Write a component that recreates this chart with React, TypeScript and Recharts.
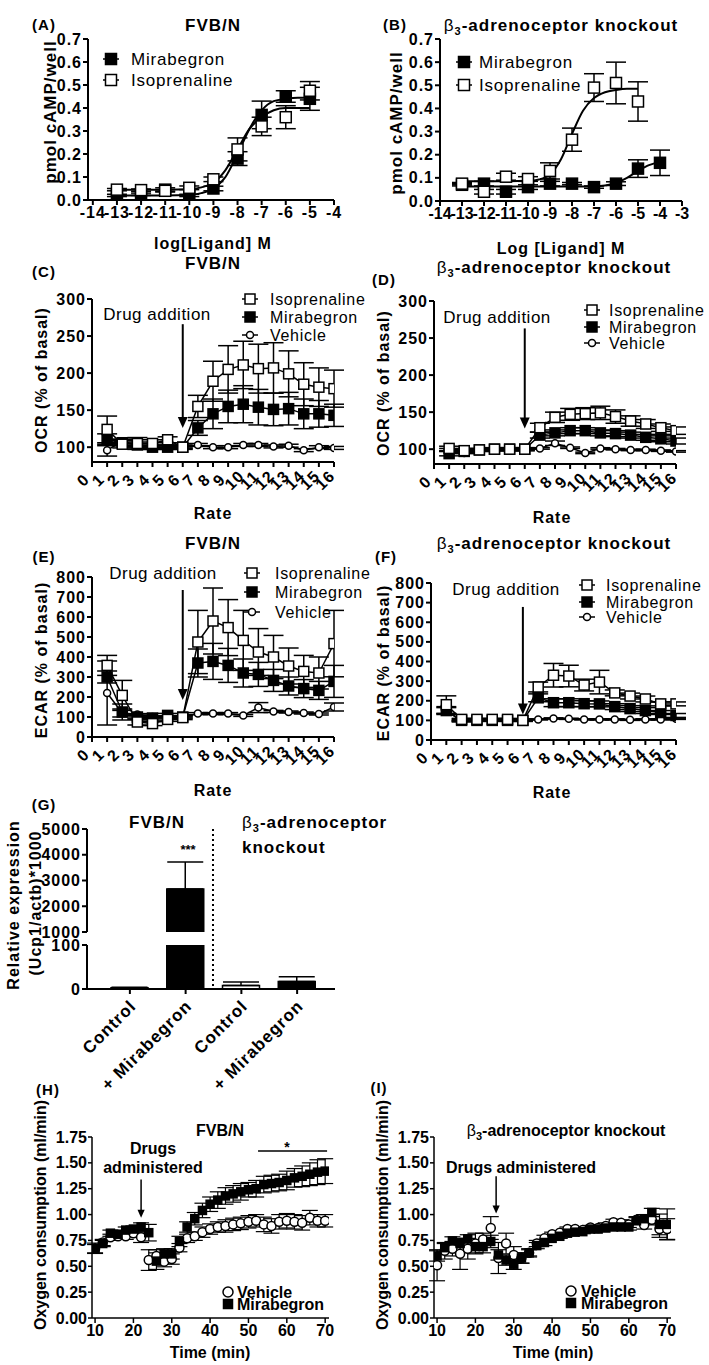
import React from "react"
import { Bar, BarChart, Cell, ComposedChart, ErrorBar, Line, ReferenceLine, XAxis, YAxis } from "recharts"

const FONT = "'Liberation Sans', Arial, Helvetica, sans-serif"

// ---- (A) cAMP, FVB/N ----
const A_DOSE = [-13, -12, -11, -10, -9, -8, -7, -6, -5]
const A_MIRA = [0.02, 0.025, 0.045, 0.02, 0.05, 0.18, 0.37, 0.45, 0.44]
const A_MIRA_ERR = [0.005, 0.005, 0.008, 0.005, 0.01, 0.03, 0.06, 0.025, 0.05]
const A_ISO = [0.045, 0.043, 0.04, 0.053, 0.09, 0.22, 0.32, 0.36, 0.475]
const A_ISO_ERR = [0.005, 0.005, 0.005, 0.008, 0.01, 0.05, 0.04, 0.05, 0.04]
const A_FIT_X = [-13, -12, -11, -10, -9.5, -9, -8.5, -8, -7.5, -7, -6.5, -6, -5.5, -5]
const A_MIRA_FIT = [0.02, 0.02, 0.02, 0.022, 0.03, 0.05, 0.1, 0.2, 0.31, 0.39, 0.43, 0.44, 0.445, 0.445]
const A_ISO_FIT = [0.045, 0.045, 0.045, 0.047, 0.055, 0.075, 0.13, 0.22, 0.31, 0.36, 0.39, 0.4, 0.4, 0.4]
const A_TICKS = [-14, -13, -12, -11, -10, -9, -8, -7, -6, -5, -4]

// ---- (B) cAMP, b3 knockout ----
const B_DOSE_MIRA = [-13, -12, -11, -10, -9, -8, -7, -6, -5, -4]
const B_MIRA = [0.07, 0.075, 0.04, 0.06, 0.075, 0.075, 0.06, 0.075, 0.14, 0.165]
const B_MIRA_ERR = [0.005, 0.01, 0.01, 0.01, 0.01, 0.005, 0.005, 0.008, 0.038, 0.055]
const B_DOSE_ISO = [-13, -12, -11, -10, -9, -8, -7, -6, -5]
const B_ISO = [0.075, 0.04, 0.105, 0.095, 0.13, 0.265, 0.49, 0.51, 0.43]
const B_ISO_ERR = [0.005, 0.01, 0.015, 0.01, 0.035, 0.05, 0.06, 0.09, 0.085]
const B_ISO_FIT_X = [-13, -12, -11, -10, -9.5, -9, -8.5, -8, -7.5, -7, -6.5, -6, -5.5, -5]
const B_ISO_FIT = [0.085, 0.085, 0.085, 0.087, 0.093, 0.115, 0.18, 0.29, 0.39, 0.445, 0.47, 0.48, 0.485, 0.485]
const B_MIRA_FIT_X = [-13, -12, -11, -10, -9, -8, -7, -6.5, -6, -5.5, -5, -4.5, -4]
const B_MIRA_FIT = [0.063, 0.063, 0.063, 0.063, 0.063, 0.063, 0.064, 0.067, 0.078, 0.1, 0.13, 0.155, 0.168]
const B_TICKS = [-14, -13, -12, -11, -10, -9, -8, -7, -6, -5, -4, -3]
const CAMP_TICKS = [0, 0.1, 0.2, 0.3, 0.4, 0.5, 0.6, 0.7]

// ---- (C)-(F) OCR / ECAR ----
const RATE = [1, 2, 3, 4, 5, 6, 7, 8, 9, 10, 11, 12, 13, 14, 15, 16]
const RATE_TICKS = [0, 1, 2, 3, 4, 5, 6, 7, 8, 9, 10, 11, 12, 13, 14, 15, 16]

const ISO_C = [124, 104, 105, 105, 110, 100, 155, 189, 205, 211, 206, 207, 199, 185, 181, 179]
const ISO_C_ERR = [18, 5, 8, 5, 4, 3, 15, 27, 32, 32, 33, 34, 31, 29, 26, 25]
const MIRA_C = [110, 106, 103, 100, 100, 100, 126, 145, 155, 158, 154, 151, 152, 145, 145, 143]
const MIRA_C_ERR = [8, 4, 4, 3, 3, 2, 10, 20, 22, 25, 24, 22, 22, 20, 18, 15]
const VEH_C = [96, 108, 103, 100, 100, 100, 103, 100, 100, 103, 103, 101, 102, 96, 100, 99]
const VEH_C_ERR = [8, 3, 2, 2, 2, 1, 2, 2, 2, 2, 2, 2, 2, 2, 2, 2]

const ISO_D = [101, 98, 99, 100, 100, 100, 129, 143, 147, 148, 149, 144, 138, 134, 129, 125]
const ISO_D_ERR = [3, 2, 2, 2, 2, 2, 6, 7, 8, 8, 9, 9, 7, 6, 5, 5]
const MIRA_D = [94, 97, 99, 100, 100, 100, 119, 122, 125, 125, 122, 121, 119, 116, 114, 111]
const MIRA_D_ERR = [3, 2, 2, 2, 2, 2, 4, 4, 4, 4, 4, 4, 4, 4, 4, 4]
const VEH_D = [99, 95, 99, 100, 100, 100, 101, 108, 102, 95, 101, 100, 99, 99, 98, 97]
const VEH_D_ERR = [2, 1, 1, 1, 1, 1, 1, 3, 1, 1, 1, 1, 1, 1, 1, 1]

const ISO_E = [358, 208, 75, 67, 88, 97, 475, 580, 547, 483, 425, 400, 355, 328, 320, 467]
const ISO_E_ERR = [50, 75, 15, 10, 10, 10, 158, 165, 140, 150, 117, 108, 90, 80, 80, 166]
const MIRA_E = [300, 125, 100, 95, 108, 100, 370, 378, 358, 320, 313, 283, 255, 242, 233, 278]
const MIRA_E_ERR = [30, 40, 10, 10, 10, 5, 70, 90, 85, 70, 60, 55, 45, 45, 45, 80]
const VEH_E = [220, 120, 112, 100, 100, 100, 117, 117, 117, 108, 147, 128, 125, 120, 115, 150]
const VEH_E_ERR = [160, 20, 5, 5, 5, 5, 5, 5, 5, 5, 25, 5, 5, 5, 5, 20]

const ISO_F = [180, 105, 105, 105, 105, 100, 270, 330, 326, 280, 295, 240, 224, 209, 184, 184]
const ISO_F_ERR = [45, 5, 5, 5, 5, 5, 25, 60, 55, 30, 60, 15, 15, 15, 10, 10]
const MIRA_F = [150, 100, 100, 100, 100, 100, 215, 190, 190, 185, 184, 170, 160, 150, 140, 125]
const MIRA_F_ERR = [20, 5, 5, 5, 5, 5, 20, 20, 20, 15, 15, 15, 15, 15, 10, 10]
const VEH_F = [150, 95, 100, 100, 100, 100, 105, 110, 108, 105, 105, 105, 103, 105, 105, 108]
const VEH_F_ERR = [15, 3, 3, 3, 3, 3, 3, 3, 3, 3, 3, 3, 3, 3, 3, 3]

const OCR_TICKS = [100, 150, 200, 250, 300]
const ECAR_TICKS = [0, 100, 200, 300, 400, 500, 600, 700, 800]

// ---- (G) Ucp1 expression ----
const G_CATS = ["Control", "+ Mirabegron", "Control", "+ Mirabegron"]
const G_VALS = [3, 2670, 8, 17]
const G_ERR = [1, 1050, 8, 11]
const G_FILL = ["#fff", "#000", "#fff", "#000"]

// ---- (H)/(I) oxygen consumption ----
const TIME = [10, 12, 14, 16, 18, 20, 22, 24, 26, 28, 30, 32, 34, 36, 38, 40, 42, 44, 46, 48, 50, 52, 54, 56, 58, 60, 62, 64, 66, 68, 70]
const MIRA_H = [0.674, 0.72, 0.82, 0.81, 0.85, 0.86, 0.88, 0.825, 0.55, 0.62, 0.62, 0.74, 0.88, 0.96, 1.04, 1.1, 1.14, 1.18, 1.2, 1.22, 1.24, 1.25, 1.29, 1.3, 1.31, 1.33, 1.355, 1.37, 1.39, 1.41, 1.42]
const MIRA_H_ERR = [0.05, 0.03, 0.03, 0.03, 0.03, 0.03, 0.04, 0.08, 0.08, 0.05, 0.05, 0.05, 0.05, 0.06, 0.07, 0.07, 0.08, 0.08, 0.08, 0.08, 0.07, 0.08, 0.08, 0.08, 0.08, 0.09, 0.09, 0.1, 0.11, 0.12, 0.12]
const VEH_H = [0.67, 0.73, 0.78, 0.79, 0.79, 0.82, 0.78, 0.56, 0.6, 0.545, 0.57, 0.68, 0.77, 0.79, 0.83, 0.86, 0.88, 0.89, 0.905, 0.915, 0.93, 0.94, 0.905, 0.89, 0.93, 0.94, 0.93, 0.92, 0.97, 0.94, 0.94]
const VEH_H_ERR = [0.04, 0.03, 0.03, 0.03, 0.03, 0.03, 0.05, 0.1, 0.06, 0.05, 0.05, 0.04, 0.04, 0.04, 0.05, 0.05, 0.05, 0.06, 0.06, 0.06, 0.06, 0.06, 0.07, 0.07, 0.07, 0.07, 0.07, 0.07, 0.07, 0.06, 0.06]
const VEH_I = [0.51, 0.65, 0.67, 0.62, 0.67, 0.72, 0.76, 0.87, 0.58, 0.72, 0.61, 0.58, 0.63, 0.72, 0.77, 0.81, 0.825, 0.86, 0.86, 0.85, 0.875, 0.87, 0.89, 0.925, 0.92, 0.905, 0.95, 0.9, 0.95, 0.86, 0.86]
const VEH_I_ERR = [0.15, 0.08, 0.07, 0.15, 0.1, 0.1, 0.06, 0.11, 0.15, 0.1, 0.08, 0.05, 0.04, 0.03, 0.03, 0.02, 0.02, 0.02, 0.02, 0.02, 0.02, 0.02, 0.03, 0.03, 0.03, 0.03, 0.03, 0.04, 0.05, 0.08, 0.1]
const MIRA_I = [0.6, 0.68, 0.745, 0.72, 0.765, 0.69, 0.69, 0.74, 0.61, 0.56, 0.52, 0.58, 0.63, 0.7, 0.73, 0.77, 0.79, 0.82, 0.83, 0.835, 0.86, 0.86, 0.87, 0.88, 0.88, 0.88, 0.94, 0.96, 1.02, 0.905, 0.905]
const MIRA_I_ERR = [0.05, 0.04, 0.04, 0.04, 0.04, 0.06, 0.06, 0.06, 0.05, 0.05, 0.05, 0.05, 0.03, 0.03, 0.03, 0.02, 0.02, 0.02, 0.02, 0.02, 0.02, 0.02, 0.02, 0.02, 0.02, 0.03, 0.03, 0.04, 0.04, 0.1, 0.15]
const O2_TICKS = [0, 0.25, 0.5, 0.75, 1, 1.25, 1.5, 1.75]
const TIME_TICKS = [10, 20, 30, 40, 50, 60, 70]

// ---------------------------------------------------------------

const AX = { stroke: "#000", strokeWidth: 2 }
const AX_THIN = { stroke: "#000", strokeWidth: 1.5 }
const YW = 80
const MT = 14
const MR = 16

type Box = { l: number; t: number; r: number; b: number }

function frame(bx: Box, xh: number, mb = 0) {
  return {
    style: { position: "absolute" as const, left: bx.l - YW, top: bx.t - MT },
    width: YW + (bx.r - bx.l) + MR,
    height: MT + (bx.b - bx.t) + xh + mb,
    margin: { top: MT, right: MR, bottom: mb, left: 0 },
  }
}

const rows = (xs: number[], ys: number[], es?: number[]) =>
  xs.map((x, i) => ({ x, y: ys[i], e: es ? es[i] : undefined }))

function Mark({ cx, cy, kind, s }: { cx: number; cy: number; kind: string; s: number }) {
  if (kind === "circle") {
    return <circle cx={cx} cy={cy} r={s / 2} fill="#fff" stroke="#000" strokeWidth={1.5} />
  }
  return (
    <rect
      x={cx - s / 2}
      y={cy - s / 2}
      width={s}
      height={s}
      fill={kind === "fsq" ? "#000" : "#fff"}
      stroke="#000"
      strokeWidth={1.5}
    />
  )
}

const dotOf = (kind: string, s: number) => (p: any) =>
  p.cx == null || p.cy == null ? (
    <g key={`n${p.index}`} />
  ) : (
    <Mark key={`m${p.index}`} cx={p.cx} cy={p.cy} kind={kind} s={s} />
  )

const yTick = (fmt: (v: number) => string, ls = 1) => (p: any) => (
  <text
    x={p.x}
    y={p.y}
    dy="0.35em"
    textAnchor="end"
    fontSize={16}
    fontWeight={700}
    fontFamily={FONT}
    letterSpacing={ls}
    fill="#000"
  >
    {fmt(p.payload.value)}
  </text>
)

const xTick = (ls = 1) => (p: any) => (
  <text
    x={p.x}
    y={p.y}
    dy="0.71em"
    textAnchor="middle"
    fontSize={16}
    fontWeight={700}
    fontFamily={FONT}
    letterSpacing={ls}
    fill="#000"
  >
    {p.payload.value}
  </text>
)

const rotTick = (p: any) => (
  <text
    transform={`translate(${p.x - 9},${p.y + 11}) rotate(-45)`}
    dy="0.35em"
    textAnchor="middle"
    fontSize={16}
    fontWeight={700}
    fontFamily={FONT}
    letterSpacing={1}
    fill="#000"
  >
    {p.payload.value}
  </text>
)

const gTick = (p: any) => (
  <text
    transform={`translate(${p.x + 3},${p.y + 7}) rotate(-45)`}
    dy="0.35em"
    textAnchor="end"
    fontSize={17}
    fontWeight={700}
    fontFamily={FONT}
    letterSpacing={1}
    fill="#000"
  >
    {G_CATS[p.payload.value]}
  </text>
)

const arrowShape = (head: number, sw: number) => (p: any) => {
  const top = Math.min(p.y1, p.y2)
  const tip = Math.max(p.y1, p.y2)
  const x = p.x1
  return (
    <g>
      <line x1={x} y1={top} x2={x} y2={tip - head + 1} stroke="#000" strokeWidth={sw} />
      <polygon
        points={`${x - head * 0.45},${tip - head} ${x + head * 0.45},${tip - head} ${x},${tip}`}
        fill="#000"
      />
    </g>
  )
}

type DoseProps = {
  box: Box
  xDomain: [number, number]
  xTicks: number[]
  tickLs: number
  mira: { x: number; y: number; e?: number }[]
  iso: { x: number; y: number; e?: number }[]
  miraFit: { x: number; y: number }[]
  isoFit: { x: number; y: number }[]
}

function DosePanel({ box, xDomain, xTicks, tickLs, mira, iso, miraFit, isoFit }: DoseProps) {
  const f = frame(box, 30)
  return (
    <div style={f.style}>
      <ComposedChart width={f.width} height={f.height} margin={f.margin}>
        <XAxis
          type="number"
          dataKey="x"
          domain={xDomain}
          ticks={xTicks}
          interval={0}
          tick={xTick(tickLs)}
          tickSize={5}
          axisLine={AX}
          tickLine={AX}
          height={30}
          allowDataOverflow
        />
        <YAxis
          type="number"
          width={YW}
          domain={[0, 0.7]}
          ticks={CAMP_TICKS}
          interval={0}
          tick={yTick((v) => v.toFixed(1))}
          tickSize={5}
          tickMargin={1}
          axisLine={AX}
          tickLine={AX}
          allowDataOverflow
        />
        <Line data={miraFit} dataKey="y" type="monotone" stroke="#000" strokeWidth={2} dot={false} activeDot={false} isAnimationActive={false} />
        <Line data={isoFit} dataKey="y" type="monotone" stroke="#000" strokeWidth={2} dot={false} activeDot={false} isAnimationActive={false} />
        <Line data={mira} dataKey="y" stroke="none" dot={dotOf("fsq", 11)} activeDot={false} isAnimationActive={false}>
          <ErrorBar dataKey="e" direction="y" width={10} stroke="#000" strokeWidth={1.5} />
        </Line>
        <Line data={iso} dataKey="y" stroke="none" dot={dotOf("osq", 11)} activeDot={false} isAnimationActive={false}>
          <ErrorBar dataKey="e" direction="y" width={10} stroke="#000" strokeWidth={1.5} />
        </Line>
      </ComposedChart>
    </div>
  )
}

type RateProps = {
  box: Box
  yDomain: [number, number]
  yTicks: number[]
  iso: number[]
  isoErr: number[]
  mira: number[]
  miraErr: number[]
  veh: number[]
  vehErr: number[]
  arrow: [number, number]
}

function RatePanel({ box, yDomain, yTicks, iso, isoErr, mira, miraErr, veh, vehErr, arrow }: RateProps) {
  const f = frame(box, 60)
  const bar = { dataKey: "e", direction: "y" as const, width: 10, stroke: "#000", strokeWidth: 1.5 }
  return (
    <div style={f.style}>
      <ComposedChart width={f.width} height={f.height} margin={f.margin}>
        <XAxis
          type="number"
          dataKey="x"
          domain={[0, 16]}
          ticks={RATE_TICKS}
          interval={0}
          tick={rotTick}
          tickSize={5}
          axisLine={AX}
          tickLine={AX}
          height={60}
          allowDataOverflow
        />
        <YAxis
          type="number"
          width={YW}
          domain={yDomain}
          ticks={yTicks}
          interval={0}
          tick={yTick((v) => String(v))}
          tickSize={5}
          tickMargin={1}
          axisLine={AX}
          tickLine={AX}
          allowDataOverflow
        />
        <ReferenceLine segment={[{ x: 6, y: arrow[0] }, { x: 6, y: arrow[1] }]} shape={arrowShape(11, 2)} />
        <Line data={rows(RATE, veh, vehErr)} dataKey="y" stroke="#000" strokeWidth={1.5} dot={dotOf("circle", 7)} activeDot={false} isAnimationActive={false}>
          <ErrorBar {...bar} />
        </Line>
        <Line data={rows(RATE, mira, miraErr)} dataKey="y" stroke="#000" strokeWidth={1.5} dot={dotOf("fsq", 10)} activeDot={false} isAnimationActive={false}>
          <ErrorBar {...bar} />
        </Line>
        <Line data={rows(RATE, iso, isoErr)} dataKey="y" stroke="#000" strokeWidth={1.5} dot={dotOf("osq", 10)} activeDot={false} isAnimationActive={false}>
          <ErrorBar {...bar} />
        </Line>
      </ComposedChart>
    </div>
  )
}

type TimeProps = {
  box: Box
  veh: number[]
  vehErr: number[]
  mira: number[]
  miraErr: number[]
  arrow: { x: number; from: number; to: number }
  star?: [number, number, number]
}

function TimePanel({ box, veh, vehErr, mira, miraErr, arrow, star }: TimeProps) {
  const f = frame(box, 30)
  const bar = { dataKey: "e", direction: "y" as const, width: 8, stroke: "#000", strokeWidth: 1.2 }
  return (
    <div style={f.style}>
      <ComposedChart width={f.width} height={f.height} margin={f.margin}>
        <XAxis
          type="number"
          dataKey="x"
          domain={[9.2, 71]}
          ticks={TIME_TICKS}
          interval={0}
          tick={xTick(0)}
          tickSize={5}
          axisLine={AX_THIN}
          tickLine={AX_THIN}
          height={30}
          allowDataOverflow
        />
        <YAxis
          type="number"
          width={YW}
          domain={[0, 1.75]}
          ticks={O2_TICKS}
          interval={0}
          tick={yTick((v) => v.toFixed(2), 0)}
          tickSize={4}
          tickMargin={1}
          axisLine={AX_THIN}
          tickLine={AX_THIN}
          allowDataOverflow
        />
        <ReferenceLine
          segment={[{ x: arrow.x, y: arrow.from }, { x: arrow.x, y: arrow.to }]}
          shape={arrowShape(8, 1.5)}
        />
        {star && (
          <ReferenceLine
            segment={[{ x: star[0], y: star[2] }, { x: star[1], y: star[2] }]}
            stroke="#000"
            strokeWidth={1.5}
          />
        )}
        <Line data={rows(TIME, veh, vehErr)} dataKey="y" stroke="none" dot={dotOf("circle", 9)} activeDot={false} isAnimationActive={false}>
          <ErrorBar {...bar} />
        </Line>
        <Line data={rows(TIME, mira, miraErr)} dataKey="y" stroke="none" dot={dotOf("fsq", 8)} activeDot={false} isAnimationActive={false}>
          <ErrorBar {...bar} />
        </Line>
      </ComposedChart>
    </div>
  )
}

function PanelG() {
  const upBox = { l: 87, t: 829, r: 335, b: 932 }
  const loBox = { l: 87, t: 945, r: 335, b: 989 }
  const fu = frame(upBox, 0, 12)
  const fl = frame(loBox, 125)
  const up = G_VALS.map((v, i) => ({ c: i, v: v >= 1000 ? v : null, e: v >= 1000 ? [0, G_ERR[i]] : null }))
  const lo = G_VALS.map((v, i) => ({ c: i, v, e: v < 100 ? [0, G_ERR[i]] : null }))
  const pad = { left: 15, right: 10 }
  return (
    <>
      <div style={fu.style}>
        <BarChart width={fu.width} height={fu.height} margin={fu.margin} data={up}>
          <XAxis type="category" dataKey="c" hide padding={pad} />
          <YAxis
            type="number"
            width={YW}
            domain={[1000, 5000]}
            ticks={[1000, 2000, 3000, 4000, 5000]}
            interval={0}
            tick={yTick((v) => String(v))}
            tickSize={5}
            tickMargin={1}
            axisLine={AX}
            tickLine={AX}
            allowDataOverflow
          />
          <Bar dataKey="v" barSize={37} stroke="#000" strokeWidth={1.5} isAnimationActive={false}>
            {up.map((d, i) => (
              <Cell key={i} fill={G_FILL[i]} />
            ))}
            <ErrorBar dataKey="e" direction="y" width={18} stroke="#000" strokeWidth={1.5} />
          </Bar>
        </BarChart>
      </div>
      <div style={fl.style}>
        <BarChart width={fl.width} height={fl.height} margin={fl.margin} data={lo}>
          <XAxis
            type="category"
            dataKey="c"
            padding={pad}
            interval={0}
            tick={gTick}
            tickSize={5}
            axisLine={AX}
            tickLine={AX}
            height={125}
          />
          <YAxis
            type="number"
            width={YW}
            domain={[0, 100]}
            ticks={[0, 100]}
            interval={0}
            tick={yTick((v) => String(v))}
            tickSize={5}
            tickMargin={1}
            axisLine={AX}
            tickLine={AX}
            allowDataOverflow
          />
          <Bar dataKey="v" barSize={37} stroke="#000" strokeWidth={1.5} isAnimationActive={false}>
            {lo.map((d, i) => (
              <Cell key={i} fill={G_FILL[i]} />
            ))}
            <ErrorBar dataKey="e" direction="y" width={18} stroke="#000" strokeWidth={1.5} />
          </Bar>
        </BarChart>
      </div>
    </>
  )
}

// ---- overlay text ----

type TP = { x: number; y: number; s?: number; w?: number; a?: string; r?: number; ls?: number; children: React.ReactNode }

function T({ x, y, s = 16, w = 700, a = "middle", r = 0, ls = 1, children }: TP) {
  return (
    <text
      transform={`translate(${x},${y}) rotate(${r})`}
      dy="0.35em"
      textAnchor={a as any}
      fontSize={s}
      fontWeight={w}
      fontFamily={FONT}
      letterSpacing={ls}
      fill="#000"
    >
      {children}
    </text>
  )
}

const Beta = ({ rest }: { rest: string }) => (
  <>
    <tspan fontWeight={400}>β</tspan>
    <tspan fontSize={11} dy={4}>3</tspan>
    <tspan dy={-4}>{rest}</tspan>
  </>
)

function Leg({ x, y, tx, kind, s, label, fs = 16, ls = 0.7 }: { x: number; y: number; tx: number; kind: string; s: number; label: string; fs?: number; ls?: number }) {
  return (
    <g>
      <line x1={x - 8} x2={x + 8} y1={y} y2={y} stroke="#000" strokeWidth={1.5} />
      <Mark cx={x} cy={y} kind={kind} s={s} />
      <T x={tx} y={y} a="start" w={400} s={fs} ls={ls}>
        {label}
      </T>
    </g>
  )
}

function Legend3({ x, tx, ys }: { x: number; tx: number; ys: number[] }) {
  return (
    <g>
      <Leg x={x} y={ys[0]} tx={tx} kind="osq" s={10} label="Isoprenaline" />
      <Leg x={x} y={ys[1]} tx={tx} kind="fsq" s={10} label="Mirabegron" />
      <Leg x={x} y={ys[2]} tx={tx} kind="circle" s={7} label="Vehicle" />
    </g>
  )
}

function Overlay() {
  return (
    <svg
      width={709}
      height={1365}
      style={{ position: "absolute", left: 0, top: 0, pointerEvents: "none" }}
    >
      {/* A */}
      <T x={44} y={25} s={15}>(A)</T>
      <T x={213} y={25} s={17}>FVB/N</T>
      <T x={50} y={112} r={-90} s={17}>pmol cAMP/well</T>
      <T x={213} y={243}>log[Ligand] M</T>
      <Leg x={111} y={59} tx={131} kind="fsq" s={11} label="Mirabegron" fs={17} ls={0.8} />
      <Leg x={111} y={80} tx={131} kind="osq" s={11} label="Isoprenaline" fs={17} ls={0.8} />

      {/* B */}
      <T x={395} y={25} s={15}>(B)</T>
      <T x={561} y={25} s={17}><Beta rest="-adrenoceptor knockout" /></T>
      <T x={396} y={123} r={-90} s={17}>pmol cAMP/well</T>
      <T x={561} y={248}>Log [Ligand] M</T>
      <Leg x={464} y={62} tx={479} kind="fsq" s={11} label="Mirabegron" fs={17} ls={0.8} />
      <Leg x={464} y={85} tx={479} kind="osq" s={11} label="Isoprenaline" fs={17} ls={0.8} />

      {/* C */}
      <T x={213} y={263} s={17}>FVB/N</T>
      <T x={44} y={272} s={15}>(C)</T>
      <T x={41} y={380} r={-90}>OCR (% of basal)</T>
      <T x={157} y={314} w={400} s={17} ls={0.5}>Drug addition</T>
      <Legend3 x={250} tx={270} ys={[299, 317, 335]} />
      <T x={213} y={513}>Rate</T>

      {/* D */}
      <T x={554} y={267} s={17}><Beta rest="-adrenoceptor knockout" /></T>
      <T x={384} y={280} s={15}>(D)</T>
      <T x={383} y={383} r={-90}>OCR (% of basal)</T>
      <T x={497} y={317} w={400} s={17} ls={0.5}>Drug addition</T>
      <Legend3 x={592} tx={609} ys={[310, 327, 343]} />
      <T x={552} y={517}>Rate</T>

      {/* E */}
      <T x={213} y={543} s={17}>FVB/N</T>
      <T x={44} y={557} s={15}>(E)</T>
      <T x={41} y={660} r={-90}>ECAR (% of basal)</T>
      <T x={163} y={573} w={400} s={17} ls={0.5}>Drug addition</T>
      <Legend3 x={252} tx={275} ys={[573, 592, 612]} />
      <T x={213} y={790}>Rate</T>

      {/* F */}
      <T x={554} y={543} s={17}><Beta rest="-adrenoceptor knockout" /></T>
      <T x={386} y={557} s={15}>(F)</T>
      <T x={383} y={663} r={-90}>ECAR (% of basal)</T>
      <T x={506} y={589} w={400} s={17} ls={0.5}>Drug addition</T>
      <Legend3 x={587} tx={606} ys={[585, 602, 617]} />
      <T x={552} y={792}>Rate</T>

      {/* G */}
      <T x={44} y={805} s={15}>(G)</T>
      <T x={13} y={905} r={-90}>Relative expression</T>
      <T x={35} y={903} r={-90}>(Ucp1/actb)*1000</T>
      <T x={157} y={822} s={17}>FVB/N</T>
      <T x={188} y={849} s={13} ls={0}>***</T>
      <T x={242} y={822} a="start" s={17}><Beta rest="-adrenoceptor" /></T>
      <T x={242} y={847} a="start" s={17}>knockout</T>
      <line x1={213} x2={213} y1={829} y2={989} stroke="#000" strokeWidth={2} strokeDasharray="2 3" />

      {/* H */}
      <T x={48} y={1090} s={15}>(H)</T>
      <T x={220} y={1130} ls={0}>FVB/N</T>
      <T x={40} y={1215} r={-90} ls={0}>Oxygen consumption (ml/min)</T>
      <T x={153} y={1148} ls={0}>Drugs</T>
      <T x={153} y={1167} ls={0}>administered</T>
      <T x={287} y={1147} s={14} ls={0}>*</T>
      <Mark cx={228} cy={1292} kind="circle" s={10} />
      <T x={237} y={1292} a="start" ls={0}>Vehicle</T>
      <Mark cx={228} cy={1304} kind="fsq" s={9} />
      <T x={237} y={1304} a="start" ls={0}>Mirabegron</T>
      <T x={210} y={1352} ls={0}>Time (min)</T>

      {/* I */}
      <T x={379} y={1088} s={15}>(I)</T>
      <T x={566} y={1130} ls={0}><Beta rest="-adrenoceptor knockout" /></T>
      <T x={382} y={1215} r={-90} ls={0}>Oxygen consumption (ml/min)</T>
      <T x={521} y={1167} ls={0}>Drugs administered</T>
      <Mark cx={571} cy={1291} kind="circle" s={10} />
      <T x={581} y={1291} a="start" ls={0}>Vehicle</T>
      <Mark cx={571} cy={1303} kind="fsq" s={9} />
      <T x={581} y={1303} a="start" ls={0}>Mirabegron</T>
      <T x={553} y={1352} ls={0}>Time (min)</T>
    </svg>
  )
}

export default function App() {
  return (
    <div style={{ position: "absolute", left: 0, top: 0, width: 709, height: 1365, background: "#fff" }}>
      <DosePanel
        box={{ l: 88, t: 39, r: 334, b: 200 }}
        xDomain={[-14.2, -4]}
        xTicks={A_TICKS}
        tickLs={1}
        mira={rows(A_DOSE, A_MIRA, A_MIRA_ERR)}
        iso={rows(A_DOSE, A_ISO, A_ISO_ERR)}
        miraFit={rows(A_FIT_X, A_MIRA_FIT)}
        isoFit={rows(A_FIT_X, A_ISO_FIT)}
      />
      <DosePanel
        box={{ l: 440, t: 39, r: 682, b: 201 }}
        xDomain={[-14, -3]}
        xTicks={B_TICKS}
        tickLs={0}
        mira={rows(B_DOSE_MIRA, B_MIRA, B_MIRA_ERR)}
        iso={rows(B_DOSE_ISO, B_ISO, B_ISO_ERR)}
        miraFit={rows(B_MIRA_FIT_X, B_MIRA_FIT)}
        isoFit={rows(B_ISO_FIT_X, B_ISO_FIT)}
      />
      <RatePanel
        box={{ l: 92, t: 299, r: 334, b: 462 }}
        yDomain={[80, 300]}
        yTicks={OCR_TICKS}
        iso={ISO_C}
        isoErr={ISO_C_ERR}
        mira={MIRA_C}
        miraErr={MIRA_C_ERR}
        veh={VEH_C}
        vehErr={VEH_C_ERR}
        arrow={[266, 126]}
      />
      <RatePanel
        box={{ l: 434, t: 301, r: 676, b: 464 }}
        yDomain={[80, 300]}
        yTicks={OCR_TICKS}
        iso={ISO_D}
        isoErr={ISO_D_ERR}
        mira={MIRA_D}
        miraErr={MIRA_D_ERR}
        veh={VEH_D}
        vehErr={VEH_D_ERR}
        arrow={[263, 128]}
      />
      <RatePanel
        box={{ l: 92, t: 577, r: 334, b: 737 }}
        yDomain={[0, 800]}
        yTicks={ECAR_TICKS}
        iso={ISO_E}
        isoErr={ISO_E_ERR}
        mira={MIRA_E}
        miraErr={MIRA_E_ERR}
        veh={VEH_E}
        vehErr={VEH_E_ERR}
        arrow={[735, 185]}
      />
      <RatePanel
        box={{ l: 431, t: 583, r: 676, b: 740 }}
        yDomain={[0, 800]}
        yTicks={ECAR_TICKS}
        iso={ISO_F}
        isoErr={ISO_F_ERR}
        mira={MIRA_F}
        miraErr={MIRA_F_ERR}
        veh={VEH_F}
        vehErr={VEH_F_ERR}
        arrow={[678, 130]}
      />
      <PanelG />
      <TimePanel
        box={{ l: 92, t: 1137, r: 329, b: 1318 }}
        veh={VEH_H}
        vehErr={VEH_H_ERR}
        mira={MIRA_H}
        miraErr={MIRA_H_ERR}
        arrow={{ x: 22, from: 1.34, to: 0.97 }}
        star={[52.5, 70.5, 1.615]}
      />
      <TimePanel
        box={{ l: 434, t: 1137, r: 671, b: 1318 }}
        veh={VEH_I}
        vehErr={VEH_I_ERR}
        mira={MIRA_I}
        miraErr={MIRA_I_ERR}
        arrow={{ x: 25.4, from: 1.37, to: 1.01 }}
      />
      <Overlay />
    </div>
  )
}
